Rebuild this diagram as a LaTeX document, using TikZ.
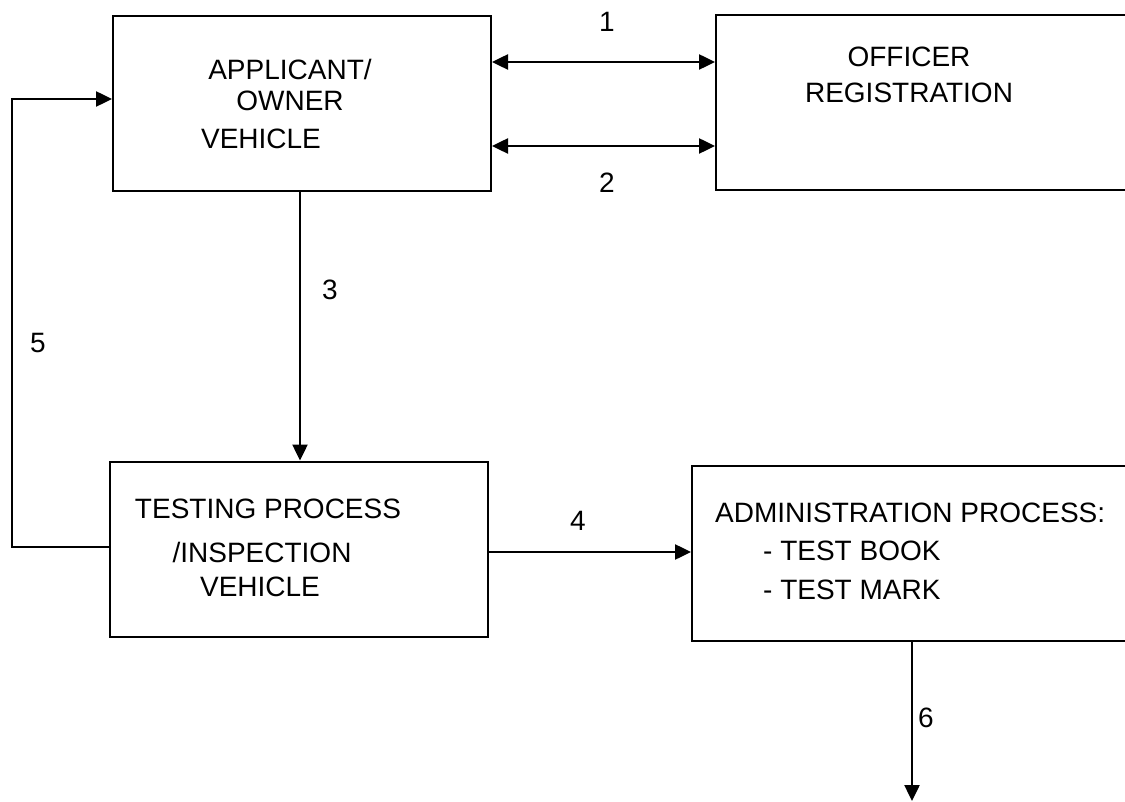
\documentclass[tikz,border=0pt]{standalone}
\usepackage{fontspec}
\setmainfont{Liberation Sans}
\usetikzlibrary{arrows.meta}
\tikzset{
  box/.style={draw, line width=2pt, rectangle, inner sep=0pt},
  txt/.style={inner sep=0pt, text height=20pt, text depth=0pt, font=\fontsize{28}{34}\selectfont},
  arr/.style={line width=2.5pt, -{Triangle[length=16pt,width=15pt]}},
  darr/.style={line width=2.5pt, {Triangle[length=16pt,width=15pt]}-{Triangle[length=16pt,width=15pt]}},
  plain/.style={line width=2pt}
}

\begin{document}
\begin{tikzpicture}[x=1pt,y=-1pt]
				%%%%% START %%%%%
				\def\w{1125}
				\def\h{802}
				\def\bh{175}
				\path[use as bounding box, clip] (0,0) rectangle (\w,\h);
				
				\node[box, minimum width=378pt, minimum height=\bh pt] (applicant) at (302,103.5) {};
				\node[box, minimum width=424pt, minimum height=\bh pt] (officer) at (928,103) {};
				\node[box, minimum width=378pt, minimum height=\bh pt] (testing) at (299,549) {};
				\node[box, minimum width=448pt, minimum height=\bh pt] (admin) at (916,553) {};
				
				\node[txt] (appa) at (290,70) {APPLICANT/};
				\node[txt] (appb) at (290,101) {OWNER};
				\node[txt] (appc) at (261,139) {VEHICLE};
				
				\node[txt] (offa) at (909,57) {OFFICER};
				\node[txt] (offb) at (909,93) {REGISTRATION};
				
				\node[txt] (tsta) at (268,508) {TESTING PROCESS};
				\node[txt] (tstb) at (262,552) {/INSPECTION};
				\node[txt] (tstc) at (260,586) {VEHICLE};
				
				\node[txt, anchor=west] (adma) at (715,512) {ADMINISTRATION PROCESS:};
				\node[txt, anchor=west] (admb) at (763,550) {- TEST BOOK};
				\node[txt, anchor=west] (admc) at (763,589) {- TEST MARK};
				
				\coordinate (rowa) at (0,62);
				\coordinate (rowb) at (0,146);
				\coordinate (rowc) at (0,552);
				\coordinate (colc) at (300,0);
				\coordinate (fbtop) at (12,99);
				\coordinate (fbbot) at (12,547);
				\coordinate (outlet) at (912,801);
				
				\draw[darr] (applicant.east |- rowa) -- (officer.west |- rowa);
				\draw[darr] (applicant.east |- rowb) -- (officer.west |- rowb);
				\draw[arr] (applicant.south -| colc) -- (testing.north -| colc);
				\draw[arr] (testing.east |- rowc) -- (admin.west |- rowc);
				\draw[arr] (testing.west |- fbbot) -- (fbbot) -- (fbtop) -- (applicant.west |- fbtop);
				\draw[arr] (admin.south -| outlet) -- (outlet);
				
				\node[txt] (laba) at (607,22) {1};
				\node[txt] (labb) at (607,183) {2};
				\node[txt] (labc) at (330,290) {3};
				\node[txt] (labd) at (578,520) {4};
				\node[txt] (labe) at (38,343) {5};
				\node[txt] (labf) at (926,717) {6};
				%%%%% END %%%%%
\end{tikzpicture}
\end{document}
